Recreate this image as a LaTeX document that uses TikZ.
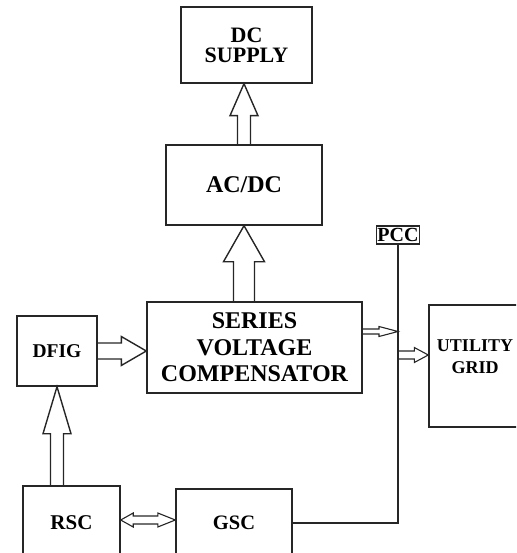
\documentclass[tikz,border=0pt]{standalone}
\usepackage{fontspec}
\setmainfont{Liberation Serif}
\usetikzlibrary{positioning, calc}

\begin{document}
\begin{tikzpicture}[x=1pt, y=-1pt,
        block/.style={rectangle, draw=black!85, line width=1.4pt, fill=white, align=center, inner sep=0pt},
        busbox/.style={rectangle, draw=black!85, line width=1.2pt, fill=white, inner sep=1pt, minimum height=18, text depth=0pt, font=\bfseries\fontsize{20}{22}\selectfont},
        line/.style={draw=black!85, line width=1.4pt},
        blk/.style={draw=black!85, line width=1.4pt, line join=miter}
    ]
        \clip (0,0) rectangle (516,553);

        % ----------------------------------------------------
        % BLOCKS
        % ----------------------------------------------------
        \node[block, minimum width=131, minimum height=76, font=\bfseries\fontsize{22}{20}\selectfont] (dcs) at (246.5, 45) {DC\\SUPPLY};
        \node[block, minimum width=156, minimum height=80, font=\bfseries\fontsize{24}{26}\selectfont] (acdc) at (244, 185) {AC/DC};
        \node[block, minimum width=215, minimum height=91, font=\bfseries\fontsize{24}{26.5}\selectfont] (svc) at (254.5, 347.5) {SERIES\\VOLTAGE\\COMPENSATOR};
        \node[block, minimum width=80, minimum height=70, font=\bfseries\fontsize{19.5}{22}\selectfont] (dfig) at (57, 351) {DFIG};
        \node[block, minimum width=92, minimum height=122, font=\bfseries\fontsize{18}{22}\selectfont] (ug) at (475, 366) {UTILITY\\GRID\\[-4pt]};
        \node[block, minimum width=97, minimum height=74, font=\bfseries\fontsize{21}{22}\selectfont] (rsc) at (71.5, 523) {RSC};
        \node[block, minimum width=116, minimum height=68, font=\bfseries\fontsize{20.5}{22}\selectfont] (gsc) at (234, 523) {GSC};
        \node[busbox] (pcc) at (398, 235) {PCC};

        % ----------------------------------------------------
        % PCC BUS
        % ----------------------------------------------------
        \draw[line] (gsc.east) -| (pcc.south);

        % ----------------------------------------------------
        % BLOCK ARROWS
        % ----------------------------------------------------
        % AC/DC to DC supply
        \coordinate (t1) at (acdc.north |- dcs.south);
        \draw[blk] ($(acdc.north)+(-6.5,0)$) |- ($(t1)+(-14,32)$) -- (t1) -- ($(t1)+(14,32)$) -| ($(acdc.north)+(6.5,0)$);

        % Compensator to AC/DC
        \coordinate (s2) at (acdc.south |- svc.north);
        \draw[blk] ($(s2)+(-10.5,0)$) |- ($(acdc.south)+(-20.5,36)$) -- (acdc.south) -- ($(acdc.south)+(20.5,36)$) -| ($(s2)+(10.5,0)$);

        % DFIG to compensator
        \coordinate (t3) at (dfig.east -| svc.west);
        \draw[blk] ($(dfig.east)+(0,-8)$) -| ($(t3)+(-25,-14.5)$) -- (t3) -- ($(t3)+(-25,14.5)$) |- ($(dfig.east)+(0,8)$);

        % RSC to DFIG
        \coordinate (s4) at (dfig.south |- rsc.north);
        \draw[blk] ($(s4)+(-6.5,0)$) |- ($(dfig.south)+(-14,47)$) -- (dfig.south) -- ($(dfig.south)+(14,47)$) -| ($(s4)+(6.5,0)$);

        % Compensator to PCC
        \coordinate (s5) at ($(svc.east)+(0,-16)$);
        \coordinate (t5) at (s5 -| pcc.south);
        \draw[blk, line width=1.1pt] ($(s5)+(0,-2.5)$) -| ($(t5)+(-19,-5)$) -- (t5) -- ($(t5)+(-19,5)$) |- ($(s5)+(0,2.5)$);

        % PCC to utility grid
        \coordinate (t6) at ($(ug.west)+(0,-11)$);
        \coordinate (s6) at (t6 -| pcc.south);
        \draw[blk, line width=1.1pt] ($(s6)+(0,-4)$) -| ($(t6)+(-14,-7.5)$) -- (t6) -- ($(t6)+(-14,7.5)$) |- ($(s6)+(0,4)$);

        % RSC <-> GSC
        \coordinate (l7) at ($(rsc.east)+(0,-3)$);
        \coordinate (r7) at (l7 -| gsc.west);
        \draw[blk, line width=1.1pt] (l7) -- ($(l7)+(12.5,-7)$) -- ($(l7)+(12.5,-4)$) -- ($(r7)+(-17.5,-4)$) -- ($(r7)+(-17.5,-7)$) -- (r7)
            -- ($(r7)+(-17.5,7)$) -- ($(r7)+(-17.5,4)$) -- ($(l7)+(12.5,4)$) -- ($(l7)+(12.5,7)$) -- cycle;

    \end{tikzpicture}
\end{document}
